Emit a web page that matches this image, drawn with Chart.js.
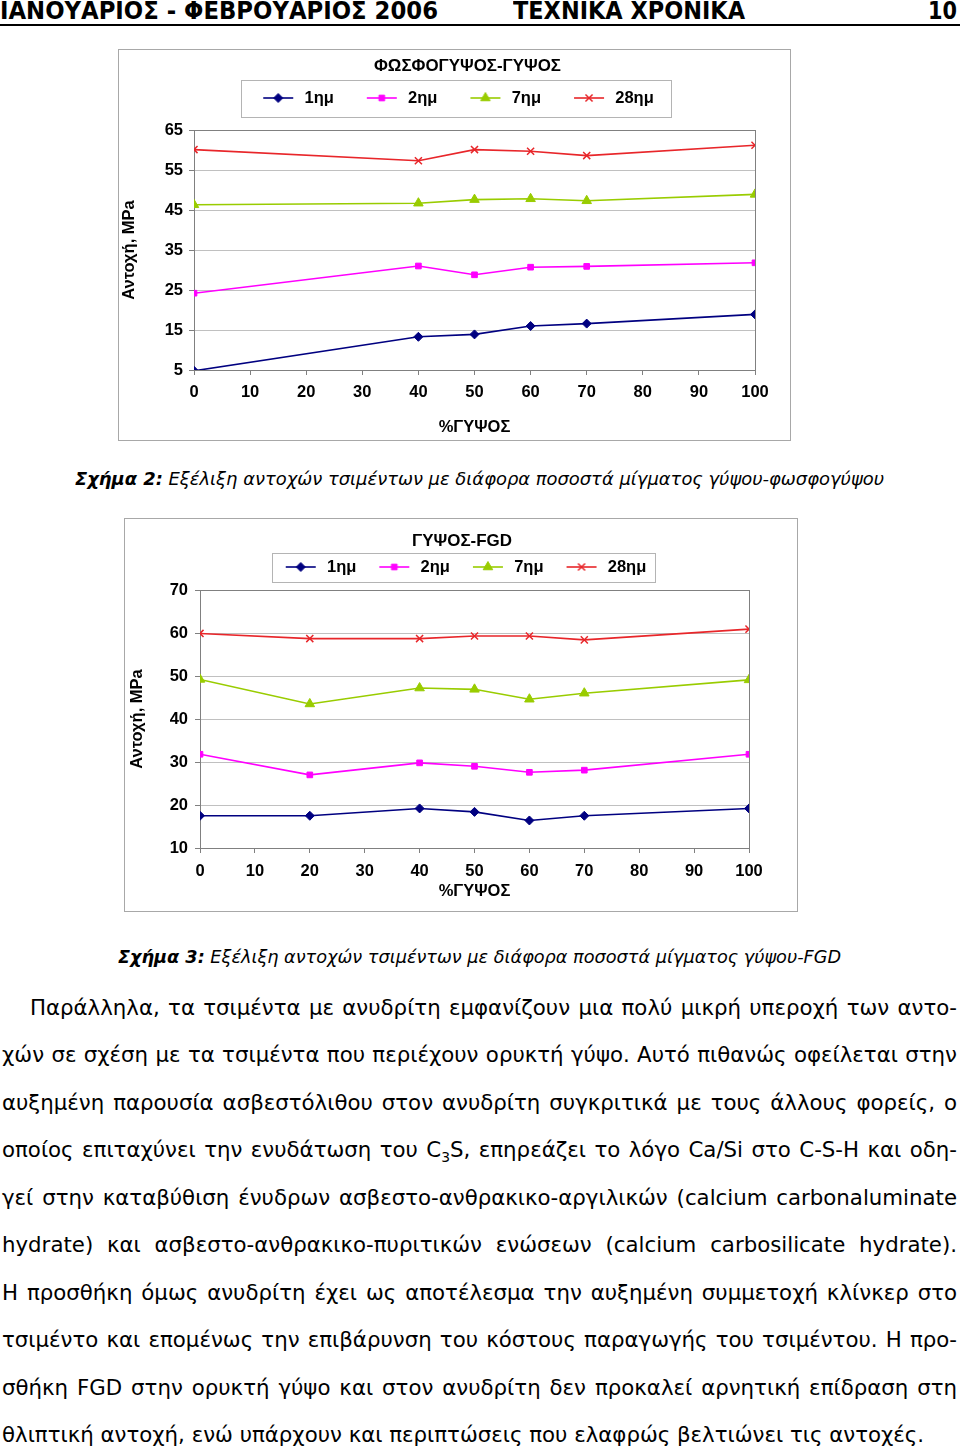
<!DOCTYPE html>
<html>
<head>
<meta charset="utf-8">
<script src="https://cdn.jsdelivr.net/npm/chart.js@4.4.1/dist/chart.umd.min.js"></script>
<style>
body{margin:0;width:960px;height:1451px;background:#fff;position:relative;overflow:hidden;font-family:"DejaVu Sans",Verdana,sans-serif;color:#000}
.abs{position:absolute;white-space:nowrap;display:inline-block;transform-origin:0 0}
.hdr{font-family:"DejaVu Sans Condensed","DejaVu Sans";font-weight:bold}
.rule{position:absolute;left:0;top:24px;width:960px;height:2px;background:#000}
.box{position:absolute;border:1px solid #a8a8a8;background:#fff}
.box canvas{display:block}
.cap{font-style:italic}
.ctitle{font-family:"Liberation Sans",Arial,sans-serif;font-weight:bold}
.ln{position:absolute}
</style>
</head>
<body>
<span class="abs hdr" id="h1">ΙΑΝΟΥΑΡΙΟΣ - ΦΕΒΡΟΥΑΡΙΟΣ 2006</span>
<span class="abs hdr" id="h2">ΤΕΧΝΙΚΑ ΧΡΟΝΙΚΑ</span>
<span class="abs hdr" id="h3">10</span>
<div class="rule"></div>

<div class="box" style="left:118px;top:49px"><canvas id="c1" width="671" height="390"></canvas></div>
<span class="abs ctitle" id="t1">ΦΩΣΦΟΓΥΨΟΣ-ΓΥΨΟΣ</span>
<span class="abs cap" id="cap2"><b>Σχήμα 2:</b> Εξέλιξη αντοχών τσιμέντων με διάφορα ποσοστά μίγματος γύψου-φωσφογύψου</span>

<div class="box" style="left:124px;top:518px"><canvas id="c2" width="672" height="392"></canvas></div>
<span class="abs ctitle" id="t2">ΓΥΨΟΣ-FGD</span>
<span class="abs cap" id="cap3"><b>Σχήμα 3:</b> Εξέλιξη αντοχών τσιμέντων με διάφορα ποσοστά μίγματος γύψου-FGD</span>

<div id="body"></div>

<script>
// δεδομένα - Σχήμα 2 (φωσφογύψος-γύψος)
const seriesNames = ['1ημ', '2ημ', '7ημ', '28ημ'];
const gypsum1 = [0, 40, 50, 60, 70, 100];
const day1_pg = [4.8, 13.3, 13.9, 16.0, 16.6, 18.9];
const day2_pg = [24.2, 31.0, 28.8, 30.7, 30.9, 31.8];
const day7_pg = [46.3, 46.7, 47.6, 47.8, 47.3, 48.9];
const day28_pg = [60.1, 57.3, 60.1, 59.7, 58.6, 61.2];
const yTicks1 = [5, 15, 25, 35, 45, 55, 65];

// δεδομένα - Σχήμα 3 (γύψος-FGD)
const gypsum2 = [0, 20, 40, 50, 60, 70, 100];
const day1_fgd = [17.5, 17.5, 19.2, 18.4, 16.4, 17.5, 19.2];
const day2_fgd = [31.8, 27.0, 29.8, 29.0, 27.6, 28.1, 31.8];
const day7_fgd = [49.2, 43.5, 47.2, 46.9, 44.6, 46.0, 49.1];
const day28_fgd = [59.9, 58.7, 58.7, 59.3, 59.3, 58.4, 60.9];
const yTicks2 = [10, 20, 30, 40, 50, 60, 70];
const xTicks = [0, 10, 20, 30, 40, 50, 60, 70, 80, 90, 100];

const bodyLines = [
  'Παράλληλα, τα τσιμέντα με ανυδρίτη εμφανίζουν μια πολύ μικρή υπεροχή των αντο-',
  'χών σε σχέση με τα τσιμέντα που περιέχουν ορυκτή γύψο. Αυτό πιθανώς οφείλεται στην',
  'αυξημένη παρουσία ασβεστόλιθου στον ανυδρίτη συγκριτικά με τους άλλους φορείς, ο',
  'οποίος επιταχύνει την ενυδάτωση του C<sub>3</sub>S, επηρεάζει το λόγο Ca/Si στο C-S-H και οδη-',
  'γεί στην καταβύθιση ένυδρων ασβεστο-ανθρακικο-αργιλικών (calcium carbonaluminate',
  'hydrate) και ασβεστο-ανθρακικο-πυριτικών ενώσεων (calcium carbosilicate hydrate).',
  'Η προσθήκη όμως ανυδρίτη έχει ως αποτέλεσμα την αυξημένη συμμετοχή κλίνκερ στο',
  'τσιμέντο και επομένως την επιβάρυνση του κόστους παραγωγής του τσιμέντου. Η προ-',
  'σθήκη FGD στην ορυκτή γύψο και στον ανυδρίτη δεν προκαλεί αρνητική επίδραση στη',
  'θλιπτική αντοχή, ενώ υπάρχουν και περιπτώσεις που ελαφρώς βελτιώνει τις αντοχές.'
];

// ---------- κείμενο σελίδας ----------
function place(el, left, baseline, fs, width) {
  el.style.fontSize = fs + 'px';
  el.style.lineHeight = fs + 'px';
  el.style.left = left + 'px';
  el.style.top = (baseline - 0.846 * fs) + 'px';
  if (width) {
    const w = el.getBoundingClientRect().width;
    el.style.transform = 'scaleX(' + (width / w) + ')';
  }
}
place(document.getElementById('h1'), 0, 19, 25, 438);
place(document.getElementById('h2'), 513, 19, 25, 232);
place(document.getElementById('h3'), 928, 19, 25, 29);
place(document.getElementById('t1'), 374, 71, 16.5, 187);
place(document.getElementById('t2'), 412, 546, 16.5, 100);
place(document.getElementById('cap2'), 75, 485, 18, 809);
place(document.getElementById('cap3'), 118, 963, 18, 723);

const body = document.getElementById('body');
// μέγεθος γραμματοσειράς από το πλάτος της τελευταίας γραμμής
const probe = document.createElement('span');
probe.className = 'abs';
probe.style.fontSize = '20px';
probe.innerHTML = bodyLines[bodyLines.length - 1];
body.appendChild(probe);
const fs = 20 * 923 / probe.getBoundingClientRect().width;
body.removeChild(probe);

bodyLines.forEach(function(t, i) {
  const left = i === 0 ? 30 : 2;
  const width = 957 - left;
  const last = i === bodyLines.length - 1;
  const base = 1015 + 47.5 * i;
  const s = document.createElement('span');
  s.className = 'abs';
  s.innerHTML = t;
  body.appendChild(s);
  s.style.fontSize = fs + 'px';
  const nat = s.getBoundingClientRect().width;
  if (last) {
    place(s, left, base, fs);
  } else if (nat > width) {
    place(s, left, base, fs, width);
  } else {
    body.removeChild(s);
    const d = document.createElement('div');
    d.className = 'ln';
    d.innerHTML = t;
    d.style.width = width + 'px';
    d.style.textAlign = 'justify';
    d.style.textAlignLast = 'justify';
    body.appendChild(d);
    place(d, left, base, fs);
  }
});
document.querySelectorAll('sub').forEach(function(s) {
  s.style.fontSize = '0.65em';
  s.style.lineHeight = '0';
});

// ---------- γραφήματα ----------
const FONT = "'Liberation Sans', Arial, sans-serif";
const FS = 16.5;
const styles = [
  { color: '#000080', point: 'rectRot', radius: 4.5, border: 1 },
  { color: '#ff00ff', point: 'rect', radius: 4, border: 1 },
  { color: '#99cc00', point: 'triangle', radius: 5.5, border: 1 },
  { color: '#e8262a', point: 'crossRot', radius: 5, border: 1.5 }
];

function makeDatasets(xs, lists) {
  return lists.map(function(vals, i) {
    const st = styles[i];
    return {
      label: seriesNames[i],
      data: xs.map(function(x, j) { return { x: x, y: vals[j] }; }),
      borderColor: st.color,
      backgroundColor: st.color,
      pointBackgroundColor: st.color,
      pointBorderColor: st.color,
      pointStyle: st.point,
      pointRadius: st.radius,
      pointBorderWidth: st.border,
      borderWidth: 1.6,
      tension: 0
    };
  });
}

function legendIcon(ds, w) {
  const c = document.createElement('canvas');
  c.width = w; c.height = 14;
  const g = c.getContext('2d');
  g.strokeStyle = ds.borderColor;
  g.lineWidth = 1.6;
  g.beginPath(); g.moveTo(w - 33, 7); g.lineTo(w - 3, 7); g.stroke();
  g.fillStyle = ds.pointBackgroundColor;
  g.strokeStyle = ds.pointBorderColor;
  g.lineWidth = ds.pointBorderWidth;
  Chart.helpers.drawPoint(g, { pointStyle: ds.pointStyle, radius: ds.pointRadius, borderWidth: ds.pointBorderWidth, rotation: 0 }, w - 18, 7);
  return c;
}

// πλαίσιο περιοχής γραφήματος και υπομνήματος
const framePlugin = {
  id: 'frame',
  beforeDatasetsDraw(chart) {
    const a = chart.chartArea, ctx = chart.ctx;
    ctx.save();
    ctx.strokeStyle = '#808080';
    ctx.lineWidth = 1;
    ctx.strokeRect(Math.round(a.left) + 0.5, Math.round(a.top) + 0.5, Math.round(a.right - a.left), Math.round(a.bottom - a.top));
    ctx.restore();
  },
  afterDraw(chart, args, o) {
    const hb = chart.legend.legendHitBoxes;
    if (!hb || !hb.length) return;
    const ctx = chart.ctx;
    const first = hb[0], last = hb[hb.length - 1];
    const cy = first.top + first.height / 2;
    const x0 = first.left + o.lead - o.padL;
    const x1 = last.left + last.width + o.padR;
    ctx.save();
    ctx.strokeStyle = '#b4b4b4';
    ctx.lineWidth = 1;
    ctx.strokeRect(Math.round(x0) + 0.5, Math.round(cy - o.halfH) + 0.5, Math.round(x1 - x0), Math.round(2 * o.halfH));
    ctx.restore();
  }
};

function makeChart(id, cfg) {
  const datasets = makeDatasets(cfg.xs, cfg.lists);
  const font = { family: FONT, size: FS, weight: 'bold' };
  return new Chart(document.getElementById(id), {
    type: 'line',
    data: { datasets: datasets },
    plugins: [framePlugin],
    options: {
      responsive: false,
      animation: false,
      devicePixelRatio: 1,
      layout: { padding: { left: cfg.padLeft, right: cfg.padRight, top: cfg.padTop, bottom: 0 } },
      plugins: {
        title: { display: false },
        legend: {
          display: true,
          position: 'top',
          labels: {
            usePointStyle: true,
            pointStyleWidth: cfg.iconW,
            padding: cfg.legendPad,
            color: '#000',
            font: font,
            generateLabels: function(chart) {
              return chart.data.datasets.map(function(ds, i) {
                return {
                  text: ds.label,
                  pointStyle: legendIcon(ds, cfg.iconW),
                  fillStyle: 'rgba(0,0,0,0)',
                  strokeStyle: 'rgba(0,0,0,0)',
                  lineWidth: 0,
                  hidden: false,
                  datasetIndex: i,
                  fontColor: '#000'
                };
              });
            }
          }
        },
        frame: { lead: cfg.iconW - 33, padL: cfg.boxPadL, padR: cfg.boxPadR, halfH: cfg.boxHalfH },
        tooltip: { enabled: false }
      },
      scales: {
        x: {
          type: 'linear',
          position: 'bottom',
          min: xTicks[0],
          max: xTicks[xTicks.length - 1],
          afterBuildTicks: function(s) { s.ticks = xTicks.map(function(v) { return { value: v }; }); },
          afterFit: function(s) { s.height = cfg.xHeight; },
          ticks: { color: '#000', font: font, padding: cfg.xTickPad, maxRotation: 0 },
          grid: { drawOnChartArea: false, drawTicks: true, tickLength: 5, tickColor: '#808080' },
          border: { color: '#808080' },
          title: { display: true, text: '%ΓΥΨΟΣ', color: '#000', font: font, padding: { top: 0, bottom: cfg.xTitlePad } }
        },
        xTop: {
          type: 'linear',
          position: 'top',
          display: true,
          ticks: { display: false },
          grid: { display: false },
          border: { display: false },
          afterFit: function(s) { s.height = cfg.topGap; }
        },
        y: {
          type: 'linear',
          min: cfg.yTicks[0],
          max: cfg.yTicks[cfg.yTicks.length - 1],
          afterBuildTicks: function(s) { s.ticks = cfg.yTicks.map(function(v) { return { value: v }; }); },
          afterFit: function(s) { s.width = 75 - cfg.padLeft; },
          ticks: { color: '#000', font: font, padding: cfg.yTickPad },
          grid: { color: '#c0c0c0', tickColor: '#808080', tickLength: 5 },
          border: { color: '#808080' },
          title: { display: true, text: 'Αντοχή, MPa', color: '#000', font: font, padding: { top: cfg.yTitlePad - cfg.padLeft, bottom: 0 } }
        }
      }
    }
  });
}

makeChart('c1', {
  xs: gypsum1,
  lists: [day1_pg, day2_pg, day7_pg, day28_pg],
  yTicks: yTicks1,
  padLeft: 20, padRight: 35, padTop: 29.75,
  legendPad: 10, iconW: 56,
  boxPadL: 22, boxPadR: 17, boxHalfH: 18.5,
  topGap: 13.75,
  xHeight: 70, xTickPad: 8, xTitlePad: 3,
  yTickPad: 6, yTitlePad: 1
});

makeChart('c2', {
  xs: gypsum2,
  lists: [day1_fgd, day2_fgd, day7_fgd, day28_fgd],
  yTicks: yTicks2,
  padLeft: 42, padRight: 48, padTop: 32.75,
  legendPad: 7, iconW: 49,
  boxPadL: 14, boxPadR: 8, boxHalfH: 14.5,
  topGap: 4.75,
  xHeight: 63, xTickPad: 9, xTitlePad: 10,
  yTickPad: 7, yTitlePad: 3
});
</script>
</body>
</html>
